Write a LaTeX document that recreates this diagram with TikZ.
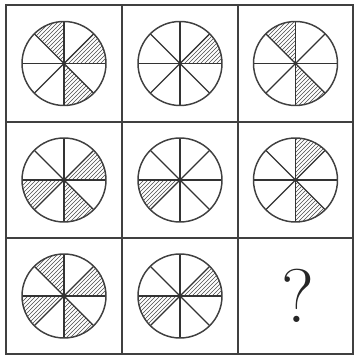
\documentclass[tikz,border=0pt]{standalone}
\usetikzlibrary{patterns}

% one wheel: centre x, centre y, list of hatched sectors (0 = from 0 to 45 degrees)
\newcommand{\wheel}[3]{%
  \foreach \s in {#3} {
    \fill[pattern=north east lines, pattern color=black!70]
      (#1,#2) -- ++(45*\s:42) arc[start angle=45*\s, end angle=45*\s+45, radius=42] -- cycle;
  }
  \foreach \a in {0,45,90,135}
    \draw[spoke] (#1,#2) ++(\a:42) -- ++(\a+180:84);
  \draw[rim] (#1,#2) circle (42);
}

\begin{document}
\begin{tikzpicture}[x=0.75pt,y=0.75pt,
  grid/.style={line width=1.5pt, draw=black!75},
  rim/.style={line width=1.1pt, draw=black!75},
  spoke/.style={line width=1pt, draw=black!80}]
\useasboundingbox (0,0) rectangle (354,356);

% frame and grid
\draw[grid] (6,2) rectangle (353,351);
\foreach \x in {122,238} \draw[grid] (\x,2) -- (\x,351);
\foreach \y in {118,234} \draw[grid] (6,\y) -- (353,\y);

% top row
\wheel{64}{292.5}{0,2,6}
\wheel{180}{292.5}{0}
\wheel{295.5}{292.5}{2,6}

% middle row
\wheel{64}{176}{0,4,6}
\wheel{180}{176}{4}
\wheel{295.5}{176}{1,6}

% bottom row
\wheel{64}{60}{0,2,4,6}
\wheel{180}{60}{0,4}
\node[text=black!85] (ask) at (298,60) {\fontsize{57}{57}\selectfont ?};
\end{tikzpicture}
\end{document}
